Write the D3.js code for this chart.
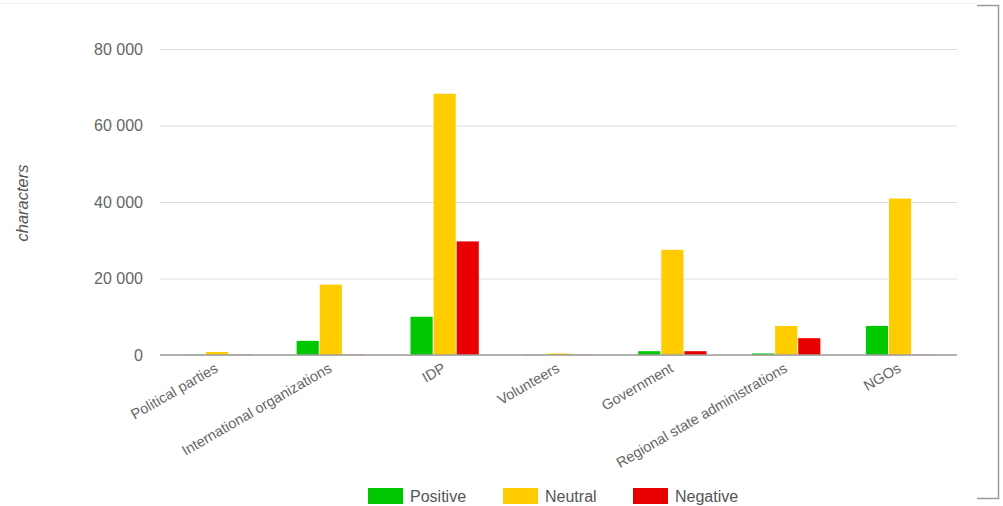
<!DOCTYPE html>
<html>
<head>
<meta charset="utf-8">
<script src="https://cdn.jsdelivr.net/npm/d3@7"></script>
<style>
  html, body { margin: 0; padding: 0; background: #fff; }
  svg { display: block; font-family: "Liberation Sans", Arial, sans-serif; }
</style>
</head>
<body>
<svg id="chart" width="1003" height="506"></svg>
<script>
// Text volume by actor and tone
const categories = ["Political parties", "International organizations", "IDP", "Volunteers",
  "Government", "Regional state administrations", "NGOs"];
const seriesNames = ["Positive", "Neutral", "Negative"];
const positive = [100, 3700, 10000, 100, 1000, 400, 7600];
const neutral  = [800, 18400, 68300, 400, 27500, 7600, 40900];
const negative = [100, 100, 29700, 100, 1000, 4400, 100];
const seriesColors = ["#00c800", "#ffcc00", "#e80000"];
const yTicks = [0, 20000, 40000, 60000, 80000];
const yTitle = "characters";

const values = [positive, neutral, negative];
const svg = d3.select("#chart");

const plotLeft = 160, plotRight = 957, plotTop = 49, plotBottom = 355;

const x0 = d3.scaleBand().domain(categories).range([plotLeft, plotRight])
  .paddingInner(0.4).paddingOuter(0.2);
const x1 = d3.scaleBand().domain(seriesNames).range([0, x0.bandwidth()]).paddingInner(0.04);
const y = d3.scaleLinear().domain([0, 80000]).range([plotBottom, plotTop]);

const fmt = d3.formatLocale({ decimal: ".", thousands: " ", grouping: [3], currency: ["", ""] }).format(",");

// Frame lines around the chart area
svg.append("line").attr("x1", 0).attr("x2", 977).attr("y1", 3.5).attr("y2", 3.5)
  .attr("stroke", "#eeeeee").attr("stroke-width", 1);
svg.append("path").attr("d", "M977,5.5H998.5V498.5H977")
  .attr("fill", "none").attr("stroke", "#9a9a9a").attr("stroke-width", 1.5);

// Gridlines and y labels
const yAxis = svg.append("g").attr("transform", `translate(${plotLeft},0)`)
  .call(d3.axisLeft(y).tickValues(yTicks).tickFormat(fmt).tickSize(-(plotRight - plotLeft)).tickPadding(17));
yAxis.select(".domain").remove();
yAxis.selectAll(".tick line").attr("stroke", "#dddddd").attr("stroke-width", 1);
yAxis.selectAll(".tick text").attr("fill", "#666").attr("font-size", 16)
  .attr("font-family", "\"Liberation Sans\", Arial, sans-serif");

// Bars
const groups = svg.append("g").selectAll("g").data(categories).join("g")
  .attr("transform", d => `translate(${x0(d)},0)`);
groups.selectAll("rect").data((d, i) => seriesNames.map((s, k) => ({ s, k, v: values[k][i] })))
  .join("rect")
  .attr("x", d => x1(d.s))
  .attr("width", x1.bandwidth())
  .attr("y", d => y(d.v))
  .attr("height", d => y(0) - y(d.v))
  .attr("fill", d => seriesColors[d.k]);

// Baseline
svg.append("line").attr("x1", plotLeft).attr("x2", plotRight).attr("y1", y(0)).attr("y2", y(0))
  .attr("stroke", "#9e9e9e").attr("stroke-width", 1.6);

// Category labels, rotated
svg.append("g").selectAll("text").data(categories).join("text")
  .attr("transform", d => `translate(${x0(d) + x0.bandwidth() / 2 + 2},${plotBottom + 16}) rotate(-30)`)
  .attr("text-anchor", "end")
  .attr("font-size", 14.5)
  .attr("fill", "#666")
  .text(d => d);

// Y axis title
svg.append("text")
  .attr("transform", "translate(28,203) rotate(-90)")
  .attr("text-anchor", "middle")
  .attr("font-size", 16.5)
  .attr("font-style", "italic")
  .attr("fill", "#555")
  .text(yTitle);

// Legend
const legendX = [368, 503, 633];
const legend = svg.append("g").selectAll("g").data(seriesNames).join("g")
  .attr("transform", (d, i) => `translate(${legendX[i]},488)`);
legend.append("rect").attr("width", 35).attr("height", 16)
  .attr("fill", (d, i) => seriesColors[i]);
legend.append("text").attr("x", 42).attr("y", 14)
  .attr("font-size", 16).attr("fill", "#555").text(d => d);
</script>
</body>
</html>
